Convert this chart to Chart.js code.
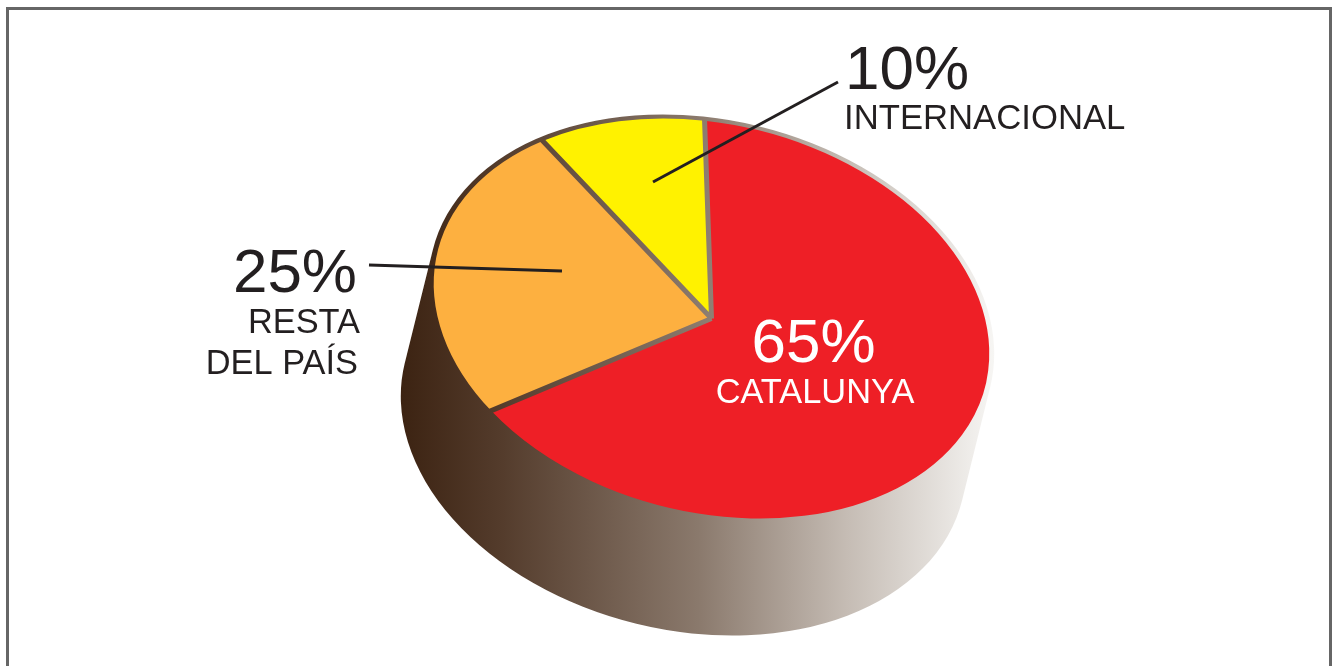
<!DOCTYPE html>
<html>
<head>
<meta charset="utf-8">
<script src="https://cdn.jsdelivr.net/npm/chart.js@4"></script>
<style>
    html, body { margin: 0; padding: 0; background: #fff; overflow: hidden; }
    #wrap { position: relative; width: 1336px; height: 666px; overflow: hidden; }
    #frame { position: absolute; left: 6px; top: 7px; width: 1326px; height: 720px; box-sizing: border-box; border: 3px solid #666; }
    canvas { position: absolute; left: 0; top: 0; }
</style>
</head>
<body>
<div id="wrap">
    <div id="frame"></div>
    <canvas id="pie" width="1336" height="666"></canvas>
</div>
<script>
const categories = ["CATALUNYA", "RESTA DEL PAÍS", "INTERNACIONAL"];
const shares = [65, 25, 10];
const sliceColors = ["#ee1f26", "#fdb040", "#fff200"];

// how the flat pie gets laid down on the page
const centerX = 711.5;
const centerY = 318.5;
const axisA = 282;
const axisB = 194;
const tilt = 13.75 * Math.PI / 180;
const rimA = 5;
const rimB = 4;
const depthX = -28;
const depthY = 113;

function layDown(ctx, el, a, b, dx, dy) {
    ctx.translate(centerX + dx, centerY + dy);
    ctx.rotate(tilt);
    ctx.scale(a / el.outerRadius, b / el.outerRadius);
    ctx.translate(-el.x, -el.y);
}

function sideGradient(ctx) {
    const g = ctx.createLinearGradient(401, 0, 995, 0);
    g.addColorStop(0, "#3c2312");
    g.addColorStop(0.17, "#543c2c");
    g.addColorStop(0.5, "#8a796c");
    g.addColorStop(0.75, "#c5bcb4");
    g.addColorStop(1, "#f7f6f4");
    return g;
}

const pieLayDown = {
    id: "pieLayDown",
    beforeDatasetsDraw(chart) {
        const ctx = chart.ctx;
        const el = chart.getDatasetMeta(0).data[0];

        // side of the cake, one path made of the rim moved down step by step
        ctx.save();
        ctx.beginPath();
        for (let t = 0; t <= 1.0001; t += 1 / 120) {
            ctx.save();
            layDown(ctx, el, axisA + rimA, axisB + rimB, depthX * t, depthY * t);
            ctx.moveTo(el.x + el.outerRadius, el.y);
            ctx.arc(el.x, el.y, el.outerRadius, 0, Math.PI * 2);
            ctx.restore();
        }
        ctx.fillStyle = sideGradient(ctx);
        ctx.fill();
        ctx.restore();

        ctx.save();
        layDown(ctx, el, axisA, axisB, 0, 0);
    },
    afterDatasetsDraw(chart) {
        const ctx = chart.ctx;
        ctx.restore();

        // dividers between the slices show the same gradient as the side
        ctx.save();
        ctx.beginPath();
        for (const el of chart.getDatasetMeta(0).data) {
            ctx.save();
            layDown(ctx, el, axisA + rimA / 2, axisB + rimB / 2, 0, 0);
            ctx.moveTo(el.x, el.y);
            ctx.lineTo(
                el.x + el.outerRadius * Math.cos(el.startAngle),
                el.y + el.outerRadius * Math.sin(el.startAngle)
            );
            ctx.restore();
        }
        ctx.strokeStyle = sideGradient(ctx);
        ctx.lineWidth = 5;
        ctx.lineJoin = "round";
        ctx.stroke();
        ctx.restore();
    },
};

const pieLabels = {
    id: "pieLabels",
    afterDraw(chart) {
        const ctx = chart.ctx;
        const big = "62px 'Liberation Sans'";
        const small = "34.4px 'Liberation Sans'";
        const ink = "#231f20";

        function text(str, x, y, font, color, align) {
            ctx.font = font;
            ctx.fillStyle = color;
            ctx.textAlign = align;
            ctx.textBaseline = "alphabetic";
            ctx.fillText(str, x, y);
        }

        function leader(x1, y1, x2, y2) {
            ctx.beginPath();
            ctx.moveTo(x1, y1);
            ctx.lineTo(x2, y2);
            ctx.strokeStyle = ink;
            ctx.lineWidth = 3;
            ctx.stroke();
        }

        ctx.save();
        leader(838, 82, 653, 182);
        leader(369, 265, 562, 271);

        text(shares[2] + "%", 845, 89, big, ink, "left");
        text(categories[2], 844, 129, "34.7px 'Liberation Sans'", ink, "left");

        text(shares[1] + "%", 357, 292, big, ink, "right");
        const rest = categories[1].split(" ");
        text(rest[0], 360, 333, small, ink, "right");
        text(rest.slice(1).join(" "), 358, 374, small, ink, "right");

        text(shares[0] + "%", 813.5, 362, big, "#fff", "center");
        text(categories[0], 815, 403, small, "#fff", "center");
        ctx.restore();
    },
};

new Chart(document.getElementById("pie"), {
    type: "pie",
    data: {
        labels: categories,
        datasets: [
            {
                data: shares,
                backgroundColor: sliceColors,
                borderWidth: 0,
                clip: false,
            },
        ],
    },
    options: {
        responsive: false,
        animation: false,
        events: [],
        rotation: -11,
        plugins: {
            legend: { display: false },
            tooltip: { enabled: false },
        },
    },
    plugins: [pieLayDown, pieLabels],
});
</script>
</body>
</html>
